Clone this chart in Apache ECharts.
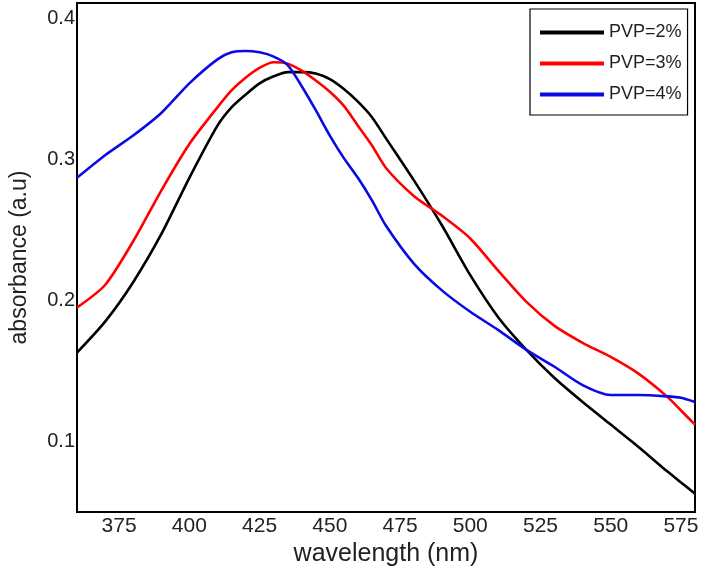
<!DOCTYPE html>
<html>
<head>
<meta charset="utf-8">
<script src="https://cdn.jsdelivr.net/npm/echarts@6/dist/echarts.min.js"></script>
<style>html,body{margin:0;padding:0;background:#fff}#c{width:703px;height:578px}</style>
</head>
<body>
<div id="c"></div>
<script>
const seriesNames = ['PVP=2%', 'PVP=3%', 'PVP=4%'];
const wavelengths = [360,370,380,390,400,410,415,420,425,430,435,440,445,450,455,460,465,470,480,490,500,510,520,530,540,550,560,570,575,580];
const pvp2 = [0.163,0.185,0.213,0.247,0.287,0.324,0.337,0.346,0.354,0.359,0.362,0.362,0.361,0.357,0.350,0.341,0.330,0.315,0.285,0.253,0.218,0.188,0.165,0.145,0.128,0.112,0.096,0.079,0.071,0.063];
const pvp3 = [0.195,0.211,0.242,0.278,0.311,0.337,0.349,0.358,0.365,0.369,0.368,0.363,0.356,0.348,0.338,0.324,0.310,0.294,0.274,0.260,0.244,0.221,0.199,0.182,0.170,0.160,0.148,0.132,0.122,0.112];
const pvp4 = [0.287,0.303,0.317,0.333,0.354,0.371,0.376,0.377,0.376,0.373,0.367,0.352,0.335,0.317,0.301,0.287,0.271,0.253,0.226,0.207,0.192,0.179,0.165,0.153,0.140,0.133,0.133,0.132,0.131,0.128];
const xTickLabels = [375,400,425,450,475,500,525,550,575];
const yTickLabels = [0.1,0.2,0.3,0.4];

const colors = ['#000000', '#ff0000', '#0a0ae6'];
const allValues = [pvp2, pvp3, pvp4];
const FONT = 'Liberation Sans, Arial, sans-serif';

const chart = echarts.init(document.getElementById('c'), null, {renderer: 'canvas'});
chart.setOption({
  animation: false,
  backgroundColor: '#ffffff',
  grid: {left: 74, right: 8, top: 3, bottom: 66, show: true, borderColor: '#000', borderWidth: 2, backgroundColor: 'transparent'},
  legend: {
    orient: 'vertical', left: 530, top: 9,
    padding: [13, 6, 10, 10],
    itemGap: 10, itemWidth: 64, itemHeight: 4, icon: 'rect',
    borderColor: '#000', borderWidth: 1.2, backgroundColor: '#fff',
    textStyle: {fontFamily: FONT, fontSize: 18, color: '#222', lineHeight: 21},
    data: seriesNames
  },
  xAxis: {
    type: 'value', min: 360, max: 580, interval: 5,
    name: 'wavelength (nm)', nameLocation: 'middle', nameGap: 29,
    nameTextStyle: {fontFamily: FONT, fontSize: 25, color: '#222'},
    axisLine: {show: true, lineStyle: {color: '#000', width: 2}},
    axisTick: {show: false},
    splitLine: {show: false},
    axisLabel: {
      interval: 0, margin: 4, fontFamily: FONT, fontSize: 21, color: '#222',
      showMinLabel: true, showMaxLabel: true,
      formatter: v => xTickLabels.indexOf(Math.round(v)) >= 0 ? String(Math.round(v)) : ''
    }
  },
  yAxis: {
    type: 'value', min: 0.05, max: 0.411, interval: 0.05,
    name: 'absorbance (a.u)', nameLocation: 'middle', nameGap: 46, nameRotate: 90,
    nameTextStyle: {fontFamily: FONT, fontSize: 23, color: '#222'},
    axisLine: {show: true, lineStyle: {color: '#000', width: 2}},
    axisTick: {show: false},
    splitLine: {show: false},
    axisLabel: {
      margin: 2, fontFamily: FONT, fontSize: 20, color: '#222',
      showMaxLabel: false,
      formatter: v => {
        const m = yTickLabels.find(t => Math.abs(t - v) < 1e-6);
        return m !== undefined ? m.toFixed(1) : '';
      }
    }
  },
  series: seriesNames.map((n, i) => ({
    name: n, type: 'line', smooth: 0.25, showSymbol: false, symbol: 'none',
    color: colors[i],
    lineStyle: {color: colors[i], width: 2.6},
    data: wavelengths.map((w, j) => [w, allValues[i][j]])
  }))
});
</script>
</body>
</html>
